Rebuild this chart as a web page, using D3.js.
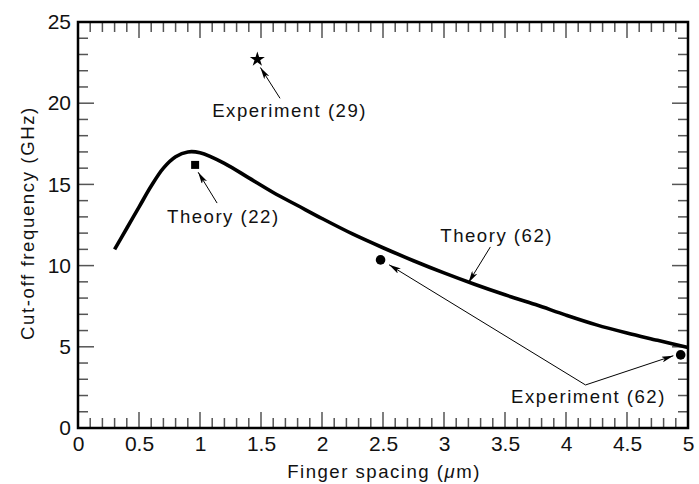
<!DOCTYPE html>
<html>
<head>
<meta charset="utf-8">
<script src="https://cdn.jsdelivr.net/npm/d3@7"></script>
<style>
  html, body { margin: 0; padding: 0; background: #fff; }
  svg { display: block; font-family: "Liberation Sans", Arial, Helvetica, sans-serif; }
</style>
</head>
<body>
<svg id="chart" width="699" height="484"></svg>
<script>
// Theory (62): cut-off frequency vs finger spacing
const theoryX = [0.3, 0.4, 0.5, 0.6, 0.7, 0.8, 0.9, 1.0, 1.2, 1.4, 1.6, 1.8, 2.0, 2.25, 2.5, 2.75, 3.0, 3.25, 3.5, 3.75, 4.0, 4.25, 4.5, 4.75, 5.0];
const theoryY = [11.0, 12.3, 13.6, 14.9, 16.0, 16.7, 17.0, 16.95, 16.3, 15.4, 14.5, 13.7, 12.9, 11.95, 11.1, 10.3, 9.55, 8.85, 8.2, 7.6, 6.95, 6.35, 5.85, 5.4, 4.95];

// Single points
const experiment29 = [1.47, 22.7];
const theory22 = [0.96, 16.2];
const experiment62X = [2.48, 4.94];
const experiment62Y = [10.35, 4.5];

// Axis ticks
const xTickLabels = [0, 0.5, 1, 1.5, 2, 2.5, 3, 3.5, 4, 4.5, 5];
const yTickLabels = [0, 5, 10, 15, 20, 25];

// Annotation texts with anchor (data units) and arrow segments (data units)
const annotations = [
  { text: "Experiment (29)", at: [1.10, 19.15], arrows: [[[1.656, 20.3], [1.495, 22.2]]] },
  { text: "Theory (22)", at: [0.73, 12.62], arrows: [[[1.14, 13.85], [0.985, 15.75]]] },
  { text: "Theory (62)", at: [2.97, 11.45], arrows: [[[3.38, 11.15], [3.2, 8.95]]] },
  { text: "Experiment (62)", at: [3.55, 1.54], arrows: [[[4.16, 2.65], [2.55, 10.05]], [[4.16, 2.65], [4.88, 4.45]]] }
];

const svg = d3.select("#chart");
const W = 699, H = 484;
const margin = { left: 78, right: 11, top: 22, bottom: 56 };

const x = d3.scaleLinear().domain([0, 5]).range([margin.left, W - margin.right]);
const y = d3.scaleLinear().domain([0, 25]).range([H - margin.bottom, margin.top]);

const tickColor = "#555";

// Minor/major inward ticks on all four sides
const xMinor = d3.range(0, 51).map(d => d / 10);
const yMinor = d3.range(0, 26);
const isMajorX = v => Math.abs(v * 2 - Math.round(v * 2)) < 1e-6;
const isMajorY = v => v % 5 === 0;

const ticks = svg.append("g").attr("stroke", tickColor).attr("stroke-width", 1.5);
xMinor.forEach(v => {
  const len = isMajorX(v) ? 16 : 10;
  ticks.append("line").attr("x1", x(v)).attr("x2", x(v)).attr("y1", y(0)).attr("y2", y(0) - len);
  ticks.append("line").attr("x1", x(v)).attr("x2", x(v)).attr("y1", y(25)).attr("y2", y(25) + len);
});
yMinor.forEach(v => {
  const len = isMajorY(v) ? 16 : 10;
  ticks.append("line").attr("y1", y(v)).attr("y2", y(v)).attr("x1", x(0)).attr("x2", x(0) + len);
  ticks.append("line").attr("y1", y(v)).attr("y2", y(v)).attr("x1", x(5)).attr("x2", x(5) - len);
});

// Frame
svg.append("rect")
  .attr("x", x(0)).attr("y", y(25))
  .attr("width", x(5) - x(0)).attr("height", y(0) - y(25))
  .attr("fill", "none").attr("stroke", "#000").attr("stroke-width", 2.5);

// Tick labels via d3 axes (lines hidden, labels only)
const fmt = d => String(d);
const xAxis = svg.append("g")
  .attr("transform", `translate(0,${y(0)})`)
  .call(d3.axisBottom(x).tickValues(xTickLabels).tickFormat(fmt).tickSize(0).tickPadding(8));
const yAxis = svg.append("g")
  .attr("transform", `translate(${x(0)},0)`)
  .call(d3.axisLeft(y).tickValues(yTickLabels).tickFormat(fmt).tickSize(0).tickPadding(7));
[xAxis, yAxis].forEach(g => {
  g.select(".domain").remove();
  g.selectAll("text").attr("font-size", 21).attr("fill", "#111")
    .attr("font-family", "'Liberation Sans', Arial, sans-serif");
});

// Axis titles
svg.append("text")
  .attr("x", (x(0) + x(5)) / 2 + 1).attr("y", 478)
  .attr("text-anchor", "middle").attr("font-size", 18.6).attr("letter-spacing", 1.5).attr("fill", "#111")
  .call(t => {
    t.append("tspan").text("Finger spacing (");
    t.append("tspan").attr("font-style", "italic").text("\u03bc");
    t.append("tspan").text("m)");
  });
svg.append("text")
  .attr("transform", `translate(34,${(y(0) + y(25)) / 2 - 2}) rotate(-90)`)
  .attr("text-anchor", "middle").attr("font-size", 18.6).attr("letter-spacing", 1.6).attr("fill", "#111")
  .text("Cut-off frequency (GHz)");

// Theory curve
const theory = theoryX.map((d, i) => [d, theoryY[i]]);
svg.append("path")
  .datum(theory)
  .attr("fill", "none").attr("stroke", "#000").attr("stroke-width", 3.6)
  .attr("stroke-linejoin", "round")
  .attr("d", d3.line().x(d => x(d[0])).y(d => y(d[1])).curve(d3.curveCatmullRom.alpha(0.5)));

// Markers
svg.append("path")
  .attr("transform", `translate(${x(experiment29[0])},${y(experiment29[1])})`)
  .attr("d", d3.symbol(d3.symbolStar, 70)()).attr("fill", "#000");
svg.append("path")
  .attr("transform", `translate(${x(theory22[0])},${y(theory22[1])})`)
  .attr("d", d3.symbol(d3.symbolSquare, 64)()).attr("fill", "#000");
svg.selectAll("circle.exp62")
  .data(experiment62X.map((d, i) => [d, experiment62Y[i]]))
  .join("circle").attr("class", "exp62")
  .attr("cx", d => x(d[0])).attr("cy", d => y(d[1])).attr("r", 4.8).attr("fill", "#000");

// Arrowhead
svg.append("defs").append("marker")
  .attr("id", "arrow").attr("viewBox", "0 0 12 6")
  .attr("refX", 12).attr("refY", 3)
  .attr("markerWidth", 12).attr("markerHeight", 6)
  .attr("markerUnits", "userSpaceOnUse")
  .attr("orient", "auto")
  .append("path").attr("d", "M0,0 L12,3 L0,6 L3,3 Z").attr("fill", "#000");

// Annotations
const ann = svg.append("g");
annotations.forEach(a => {
  ann.append("text")
    .attr("x", x(a.at[0])).attr("y", y(a.at[1]))
    .attr("font-size", 18.6).attr("letter-spacing", 1.5).attr("fill", "#111")
    .text(a.text);
  a.arrows.forEach(seg => {
    ann.append("line")
      .attr("x1", x(seg[0][0])).attr("y1", y(seg[0][1]))
      .attr("x2", x(seg[1][0])).attr("y2", y(seg[1][1]))
      .attr("stroke", "#000").attr("stroke-width", 1)
      .attr("marker-end", "url(#arrow)");
  });
});
</script>
</body>
</html>
